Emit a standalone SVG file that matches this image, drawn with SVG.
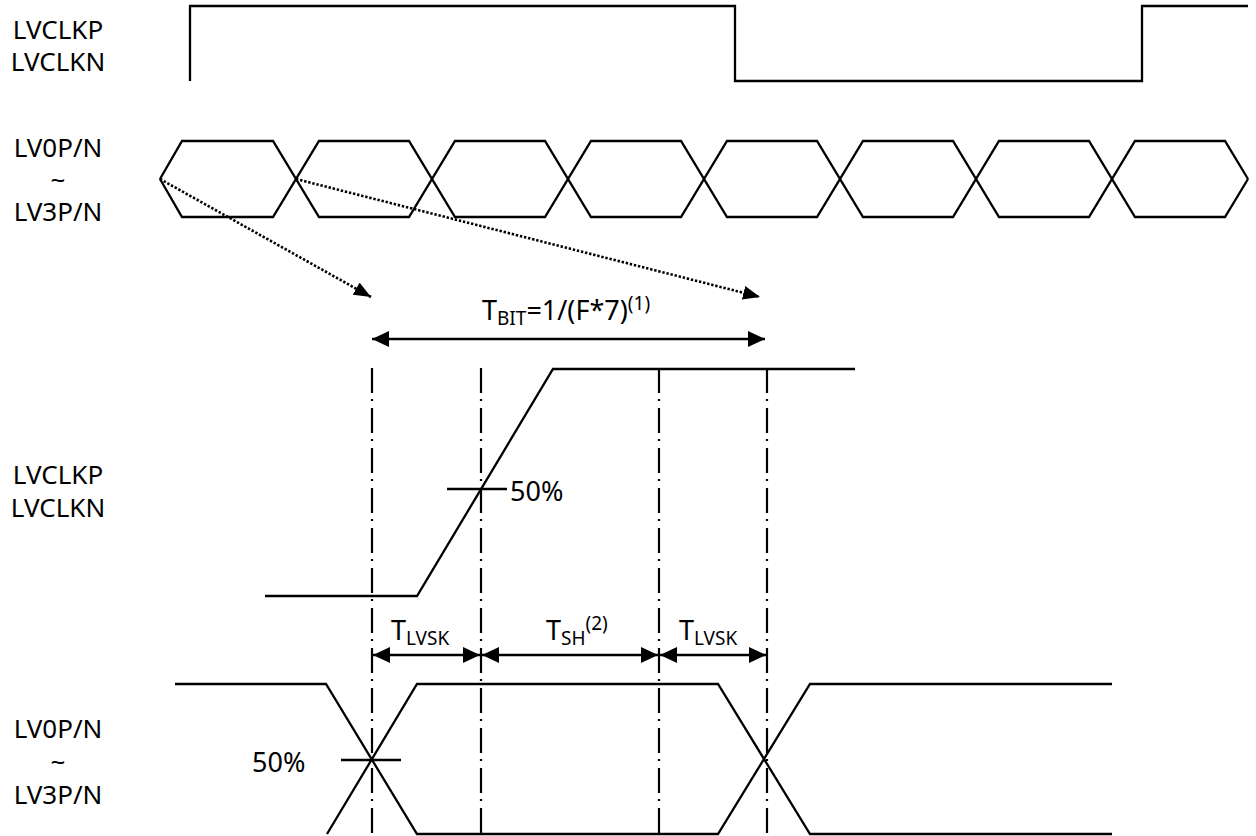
<svg xmlns="http://www.w3.org/2000/svg" width="1256" height="836" viewBox="0 0 1256 836">
<style>
.w{fill:none;stroke:#000;stroke-width:2.3;stroke-linejoin:miter}
.g{fill:none;stroke:#000;stroke-width:2.2;stroke-dasharray:25 6 2 7}
.d{fill:none;stroke:#000;stroke-width:2.6;stroke-dasharray:2.4 1.8}
.a{fill:none;stroke:#000;stroke-width:2.3}
text{font-family:"Noto Sans","Open Sans","DejaVu Sans",sans-serif;font-size:27px;fill:#000}
.l{text-anchor:middle;font-size:26px}
.s{font-size:19px}
</style>
<defs>
<marker id="ah" viewBox="0 0 17 16" refX="17" refY="8" markerWidth="17" markerHeight="16" markerUnits="userSpaceOnUse" orient="auto-start-reverse">
<path d="M0,0 L17,8 L0,16 Z" fill="#000"/>
</marker>
<marker id="dh" viewBox="0 0 17 14" refX="17" refY="7" markerWidth="17" markerHeight="14" markerUnits="userSpaceOnUse" orient="auto">
<path d="M0,0 L17,7 L0,14 Z" fill="#000"/>
</marker>
</defs>
<g id="labels">
<text class="l" x="58" y="39">LVCLKP</text>
<text class="l" x="58" y="71">LVCLKN</text>
<text class="l" x="58" y="157">LV0P/N</text>
<text class="l" x="58" y="189">~</text>
<text class="l" x="58" y="221">LV3P/N</text>
<text class="l" x="58" y="484">LVCLKP</text>
<text class="l" x="58" y="517">LVCLKN</text>
<text class="l" x="58" y="738">LV0P/N</text>
<text class="l" x="58" y="771">~</text>
<text class="l" x="58" y="804">LV3P/N</text>
</g>
<g id="clock-top">
<polyline class="w" points="190,81 190,6 735,6 735,81 1142,81 1142,6 1248,6"/>
</g>
<g id="data-top">
<polyline class="w" points="160,179 182,141 273,141 319,217 409,217 455,141 545,141 591,217 681,217 727,141 817,141 863,217 953,217 999,141 1089,141 1135,217 1225,217 1248,179"/>
<polyline class="w" points="160,179 182,217 273,217 319,141 409,141 455,217 545,217 591,141 681,141 727,217 817,217 863,141 953,141 999,217 1089,217 1135,141 1225,141 1248,179"/>
</g>
<g id="guides">
<line class="g" x1="372" y1="368" x2="372" y2="836"/>
<line class="g" x1="481" y1="368" x2="481" y2="836"/>
<line class="g" x1="659" y1="368" x2="659" y2="836"/>
<line class="g" x1="767" y1="368" x2="767" y2="836"/>
</g>
<g id="clock-zoom">
<polyline class="w" points="265,596 417,596 553,369 855,369"/>
<line class="w" x1="447" y1="489" x2="507" y2="489"/>
<text x="510" y="501">50%</text>
</g>
<g id="data-zoom">
<polyline class="w" points="175,684 326,684 417,834 718,834 810,684 1112,684"/>
<polyline class="w" points="327,834 417,684 718,684 810,834 1112,834"/>
<line class="w" x1="341" y1="760" x2="401" y2="760"/>
<text x="252" y="772">50%</text>
</g>
<g id="connectors">
<line class="d" x1="160" y1="179" x2="371" y2="297" marker-end="url(#dh)"/>
<line class="d" x1="296" y1="179" x2="760" y2="297" marker-end="url(#dh)"/>
<line class="a" x1="372" y1="339" x2="765" y2="339" marker-start="url(#ah)" marker-end="url(#ah)"/>
<line class="a" x1="373" y1="655" x2="480" y2="655" marker-start="url(#ah)" marker-end="url(#ah)"/>
<line class="a" x1="482" y1="655" x2="658" y2="655" marker-start="url(#ah)" marker-end="url(#ah)"/>
<line class="a" x1="660" y1="655" x2="766" y2="655" marker-start="url(#ah)" marker-end="url(#ah)"/>
</g>
<g id="timing-labels">
<text x="482" y="320">T<tspan class="s" dy="5">BIT</tspan><tspan dy="-5">=1/(F*7)</tspan><tspan class="s" dy="-10">(1)</tspan></text>
<text x="391" y="640">T<tspan class="s" dy="5">LVSK</tspan></text>
<text x="546" y="640">T<tspan class="s" dy="5">SH</tspan><tspan class="s" dy="-15">(2)</tspan></text>
<text x="679" y="640">T<tspan class="s" dy="5">LVSK</tspan></text>
</g>
</svg>
